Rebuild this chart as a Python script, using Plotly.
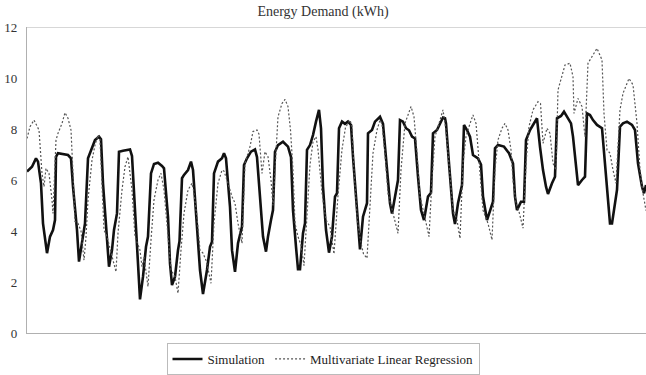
import plotly.graph_objects as go

# Time steps (hours, relative) and energy demand values
sim_t = [0, 5, 9, 11, 14, 16, 20, 23, 26, 28, 29, 31, 41, 44, 46, 50, 52, 55, 58, 61,
         65, 68, 72, 74, 76, 80, 82, 85, 87, 90, 92, 96, 103, 105, 108, 111, 113, 116, 119, 121,
         124, 127, 131, 135, 137, 141, 143, 145, 148, 151, 152.5, 155, 157, 161, 164, 166, 170, 173, 176, 180,
         183, 185, 187, 191, 195, 197, 199, 203, 205, 208, 211, 215, 217, 220, 224, 228, 230, 233, 236, 239,
         241, 244, 246, 248, 251, 256, 261, 264, 266, 269, 271, 273, 276, 278, 280, 283, 286, 289, 292, 294,
         296, 299, 302, 305, 308, 310, 312, 315, 318, 321, 324, 326, 330, 333, 336, 340, 341, 345, 348, 353,
         356, 360, 363, 365, 368, 371, 373, 376, 379, 382, 385, 388, 391, 394, 397, 401, 404, 406, 410, 413,
         416, 418, 419, 422, 426, 428, 431, 435, 437, 440, 443, 446, 451, 454, 456, 460, 463, 466, 468, 471,
         477, 482, 486, 488, 490, 494, 497, 499, 503, 506, 510, 513, 516, 519, 521, 525, 528, 530, 534, 537,
         540, 544, 546, 549, 551, 555, 558, 560, 563, 566, 570, 575, 578, 581, 583, 585, 588, 590, 593, 596,
         600, 605, 608, 611, 615, 617, 619]
sim_kwh = [6.33, 6.52, 6.85, 6.72, 5.87, 4.30, 3.13, 3.78, 4.04, 4.43, 6.91, 7.05, 6.98, 6.85, 5.74, 4.04, 2.80, 3.65, 4.30, 6.85,
           7.24, 7.57, 7.70, 7.60, 5.87, 3.91, 2.60, 3.25, 4.04, 4.69, 7.11, 7.15, 7.20, 6.94, 4.95, 2.73, 1.32, 2.21, 3.38, 3.78,
           6.26, 6.63, 6.68, 6.55, 6.46, 4.56, 2.73, 1.88, 2.21, 3.25, 3.60, 6.07, 6.20, 6.39, 6.72, 6.39, 4.30, 2.47, 1.53, 2.47,
           3.38, 3.58, 6.26, 6.72, 6.85, 7.05, 6.85, 4.95, 3.25, 2.40, 3.52, 4.17, 6.59, 6.85, 7.11, 7.20, 6.90, 5.35, 3.78, 3.19,
           3.78, 4.43, 4.82, 7.11, 7.37, 7.50, 7.31, 6.90, 4.82, 3.38, 2.50, 2.50, 3.91, 4.30, 7.18, 7.37, 7.76, 8.29, 8.75, 8.03,
           5.74, 4.04, 3.15, 3.78, 5.35, 5.48, 8.03, 8.29, 8.20, 8.29, 8.16, 6.91, 4.82, 3.28, 4.56, 5.09, 7.83, 7.96, 8.29, 8.48,
           8.20, 6.39, 5.09, 4.69, 5.35, 6.00, 8.35, 8.29, 8.03, 7.95, 7.70, 7.63, 6.13, 4.82, 4.43, 5.35, 5.50, 7.83, 7.96, 8.22,
           8.45, 8.42, 8.22, 6.65, 4.69, 4.27, 5.09, 5.80, 8.16, 7.96, 7.70, 6.98, 6.85, 6.60, 5.35, 4.43, 4.82, 5.15, 7.24, 7.37,
           7.31, 7.05, 6.65, 5.35, 4.82, 5.15, 5.15, 7.57, 7.96, 8.16, 8.42, 7.30, 6.39, 5.74, 5.45, 5.87, 6.13, 8.42, 8.51, 8.68,
           8.50, 8.22, 7.70, 6.39, 5.80, 6.00, 6.13, 8.61, 8.55, 8.35, 8.16, 8.03, 6.65, 5.09, 4.30, 4.30, 5.22, 5.61, 8.09, 8.22,
           8.29, 8.16, 7.96, 6.65, 5.74, 5.48, 5.80]

reg_t = [0, 3, 7, 10, 12, 15, 17, 19, 22, 25, 26, 29, 31, 35, 38, 41, 44, 46, 48, 51,
         54, 57, 59, 61, 65, 68, 71, 73, 75, 77, 80, 85, 89, 91, 95, 98, 101, 105, 108, 113,
         115, 117, 121, 124, 127, 131, 134, 137, 141, 144, 148, 151, 154, 157, 161, 165, 166.5, 170, 173, 176,
         179.5, 184, 187, 191, 195, 197, 201, 205, 208, 211, 215, 216, 218, 223, 226, 230, 232, 235, 238, 241,
         244, 246, 250, 251, 255, 258, 261, 263.5, 266, 268, 271, 274, 277, 279.5, 283, 286, 289, 291, 295, 299,
         303, 307, 311, 315, 318.5, 323, 325, 327, 330.5, 334, 336.5, 340, 343, 346, 350, 353, 355, 358, 361, 366,
         371, 374, 378, 384, 387, 390, 393, 397, 402, 405, 408, 413, 416, 419, 423, 426, 430, 433, 436, 439,
         442, 446, 449, 451, 454, 456, 461, 465, 468, 471, 475, 478, 481, 484, 486, 489, 492, 496, 499, 502,
         506, 511, 513.5, 516, 520, 523, 526, 529, 531, 535, 538, 543, 546, 547, 551, 555, 558, 561, 565, 570,
         575, 577, 580, 583, 586, 589, 593, 596, 602, 606, 610, 613, 616, 619]
reg_kwh = [7.63, 8.09, 8.35, 8.09, 7.96, 6.26, 5.74, 6.46, 6.26, 5.22, 4.69, 7.57, 7.83, 8.22, 8.64, 8.42, 7.96, 6.26, 4.37, 4.30,
           4.00, 2.86, 3.78, 5.22, 6.78, 7.37, 7.76, 7.60, 5.61, 4.04, 3.78, 2.99, 2.40, 3.91, 5.61, 6.52, 6.91, 5.61, 3.78, 3.25,
           2.60, 2.99, 1.82, 3.65, 5.22, 6.00, 6.26, 5.61, 3.65, 2.47, 2.21, 1.56, 3.25, 4.69, 5.61, 5.87, 5.60, 4.56, 3.25, 3.13,
           2.80, 1.95, 4.30, 5.87, 6.39, 6.35, 5.87, 5.35, 5.09, 4.30, 3.52, 4.56, 6.65, 7.31, 7.90, 7.96, 7.80, 6.26, 7.11, 6.91,
           6.00, 5.00, 8.22, 8.48, 9.00, 9.16, 8.88, 7.96, 6.39, 4.30, 3.78, 3.45, 2.64, 4.35, 6.60, 7.50, 7.70, 7.20, 5.50, 4.43,
           4.17, 3.10, 5.40, 7.20, 8.06, 8.35, 8.10, 6.35, 4.36, 3.52, 3.10, 2.93, 5.09, 7.05, 7.96, 8.35, 8.20, 7.05, 5.48, 4.69,
           3.91, 6.39, 8.22, 8.88, 8.48, 7.05, 5.35, 4.69, 3.78, 6.00, 7.70, 8.35, 8.75, 7.96, 6.00, 4.82, 4.43, 3.71, 6.65, 7.70,
           8.09, 8.55, 8.22, 7.31, 6.00, 4.82, 4.30, 3.65, 6.39, 7.57, 8.03, 8.22, 7.96, 7.18, 6.00, 5.09, 4.76, 4.11, 6.65, 8.09,
           8.75, 9.07, 9.00, 7.44, 8.03, 7.83, 6.65, 6.39, 9.53, 10.05, 10.51, 10.58, 10.05, 8.61, 9.20, 8.88, 7.70, 10.58, 10.84, 11.16,
           10.71, 8.61, 7.18, 7.05, 6.39, 5.87, 8.75, 9.40, 9.98, 9.73, 8.22, 6.39, 5.48, 4.80]

y_ticks = [0, 2, 4, 6, 8, 10, 12]
title_text = "Energy Demand (kWh)"
series_names = ["Simulation", "Multivariate Linear Regression"]

SERIF = "Liberation Serif"

fig = go.Figure()
fig.add_trace(go.Scatter(x=sim_t, y=sim_kwh, mode="lines", name=series_names[0],
                         line=dict(color="#111111", width=2.6)))
fig.add_trace(go.Scatter(x=reg_t, y=reg_kwh, mode="lines", name=series_names[1],
                         line=dict(color="#555555", width=1.2, dash="2px,2px")))

# top border line at y = 12
fig.add_shape(type="line", xref="paper", yref="y", x0=0, x1=1, y0=12, y1=12,
              line=dict(color="#b0b0b0", width=1.2), layer="below")

fig.update_layout(
    width=646, height=375,
    margin=dict(l=27, r=0, t=27, b=42),
    paper_bgcolor="white", plot_bgcolor="white",
    font=dict(family=SERIF, size=13, color="#222222"),
    title=dict(text=title_text, x=0.5, xref="container", xanchor="center",
               y=1 - 11 / 375, yref="container", yanchor="middle",
               font=dict(family=SERIF, size=14, color="#333333")),
    showlegend=True,
    legend=dict(orientation="h", x=0.5, xref="container", xanchor="center",
                y=1 - 359 / 375, yref="container", yanchor="middle",
                bordercolor="#bbbbbb", borderwidth=1, bgcolor="white",
                font=dict(family=SERIF, size=13, color="#222222"),
                itemwidth=30, tracegroupgap=0),
    xaxis=dict(range=[0, 619], showticklabels=False, ticks="", showgrid=False,
               zeroline=False, showline=True, linecolor="#b0b0b0", linewidth=1.2),
    yaxis=dict(range=[0, 12], tickvals=y_ticks, showgrid=False, zeroline=False,
               showline=True, linecolor="#b0b0b0", linewidth=1.2, ticks="",
               ticklabelstandoff=6,
               tickfont=dict(family=SERIF, size=13, color="#333333")),
)

fig.write_html("out.html")
